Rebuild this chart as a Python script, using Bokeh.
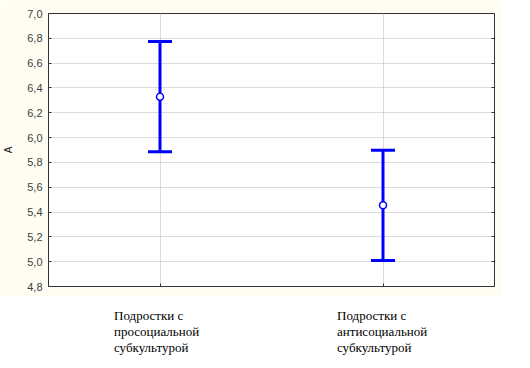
from bokeh.plotting import figure
from bokeh.models import Range1d, LinearAxis, FixedTicker, Whisker, TeeHead, ColumnDataSource
from bokeh.layouts import column
from bokeh.embed import file_html
from bokeh.resources import INLINE
from bokeh.core.properties import value

# ---- data ----
categories = ["Подростки с\nпросоциальной\nсубкультурой",
              "Подростки с\nантисоциальной\nсубкультурой"]
cat_pos = [1, 2]
means = [6.33, 5.455]
upper = [6.775, 5.898]
lower = [5.886, 5.01]
y_ticks = [4.8, 5.0, 5.2, 5.4, 5.6, 5.8, 6.0, 6.2, 6.4, 6.6, 6.8, 7.0]
y_tick_labels = ["4,8", "5,0", "5,2", "5,4", "5,6", "5,8", "6,0", "6,2", "6,4", "6,6", "6,8", "7,0"]
y_label = "A"

CREAM = "#FFFDF2"
BLUE = "#0000FF"
DARK = "#333333"

src = ColumnDataSource(dict(x=cat_pos, mean=means, upper=upper, lower=lower))

p = figure(width=502, height=296, x_range=Range1d(0.5, 2.5), y_range=Range1d(4.8, 7.0),
           output_backend="svg", toolbar_location=None,
           min_border_left=45, min_border_right=8, min_border_top=13, min_border_bottom=10,
           border_fill_color=CREAM, background_fill_color="white",
           outline_line_color=DARK, outline_line_width=1)

# left axis
ya = p.yaxis[0]
ya.ticker = FixedTicker(ticks=y_ticks)
ya.major_label_overrides = dict(zip(y_ticks, y_tick_labels))
ya.axis_line_color = None
ya.major_tick_in = 3
ya.major_tick_out = 0
ya.major_tick_line_color = DARK
ya.minor_tick_line_color = None
ya.major_label_text_font = "Liberation Sans"
ya.major_label_text_font_size = "11px"
ya.major_label_text_color = "#404040"
ya.major_label_standoff = 6
ya.axis_label = y_label
ya.axis_label_text_font = "Liberation Sans"
ya.axis_label_text_font_size = "10px"
ya.axis_label_text_font_style = "normal"
ya.axis_label_text_color = "#202020"
ya.axis_label_standoff = 10

# right axis (ticks only)
ra = LinearAxis(ticker=FixedTicker(ticks=y_ticks),
                major_label_overrides={t: "" for t in y_ticks},
                axis_line_color=None, major_tick_in=3, major_tick_out=0,
                major_tick_line_color=DARK, minor_tick_line_color=None,
                major_label_standoff=0, major_label_text_font_size="1px")
p.add_layout(ra, "right")

# bottom axis (ticks only)
xa = p.xaxis[0]
xa.ticker = FixedTicker(ticks=cat_pos)
xa.major_label_overrides = {c: "" for c in cat_pos}
xa.axis_line_color = None
xa.major_tick_in = 3
xa.major_tick_out = 0
xa.major_tick_line_color = DARK
xa.minor_tick_line_color = None
xa.major_label_standoff = 0
xa.major_label_text_font_size = "1px"

p.xgrid.grid_line_color = "#b8b8b8"
p.xgrid.grid_line_dash = "1 1"
p.ygrid.grid_line_color = "#b8b8b8"
p.ygrid.grid_line_dash = "1 1"

wh = Whisker(base="x", upper="upper", lower="lower", source=src,
             line_color=BLUE, line_width=3, level="underlay",
             upper_head=TeeHead(size=24, line_color=BLUE, line_width=3),
             lower_head=TeeHead(size=24, line_color=BLUE, line_width=3))
p.add_layout(wh)
p.scatter(x="x", y="mean", source=src, size=7, fill_color="white",
          line_color=BLUE, line_width=1.5)

# category labels below
p2 = figure(width=502, height=72, x_range=p.x_range, y_range=Range1d(0, 72),
            x_axis_type=None, y_axis_type=None,
            output_backend="svg", toolbar_location=None,
            min_border_left=45, min_border_right=8, min_border_top=0, min_border_bottom=0,
            outline_line_color=None, border_fill_color="white", background_fill_color="white")
p2.grid.visible = False
p2.text(x=cat_pos, y=[61, 61], text=categories, text_align="left", text_baseline="top",
        x_offset=-46, text_font=value("Liberation Serif"), text_font_size="13px",
        text_color="black", text_line_height=1.08)

layout = column(p, p2, spacing=0)
open("out.html", "w").write(file_html(layout, INLINE))
